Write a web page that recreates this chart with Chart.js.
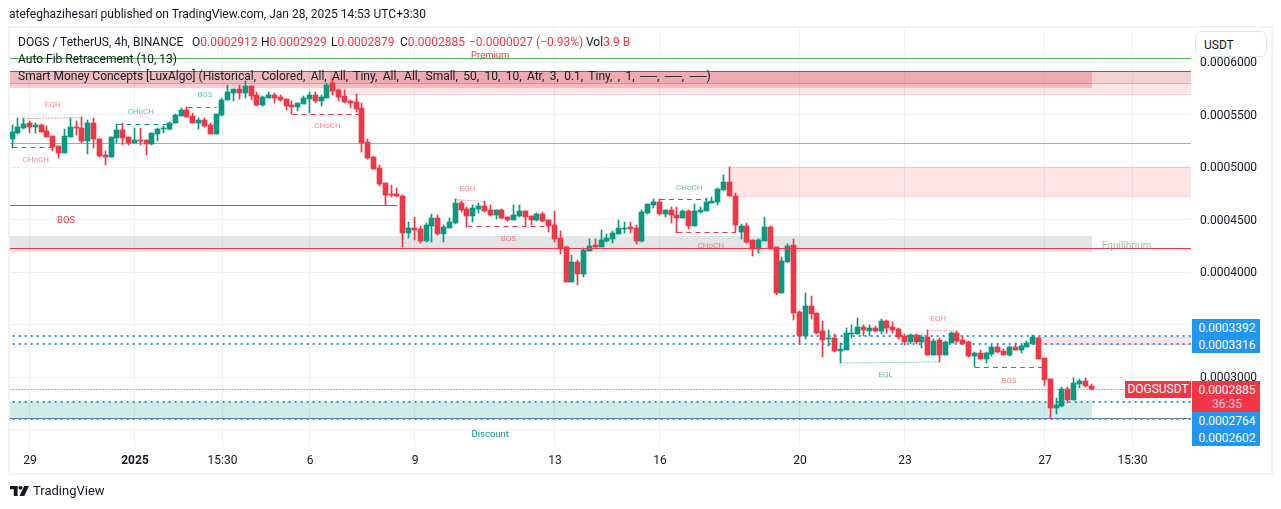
<!DOCTYPE html>
<html>
<head>
<meta charset="utf-8">
<style>
body{margin:0;background:#fff;font-family:Roboto,sans-serif;color:#131722;}
#wrap{position:relative;width:1281px;height:509px;overflow:hidden;}
#frame{position:absolute;left:8px;top:26px;width:1261px;height:445px;border:2px solid #f0f3fa;}
canvas{position:absolute;left:0;top:0;}
.t{position:absolute;font-size:12px;line-height:14px;white-space:nowrap;}
.r{color:#f23645;}
.tag{position:absolute;left:1192px;width:68px;color:#fff;font-size:12px;line-height:14px;text-align:center;text-indent:2px;}
</style>
</head>
<body>
<div id="wrap">
  <div id="frame"></div>
  <canvas id="c" width="1281" height="509"></canvas>
  <div class="t" style="left:9px;top:7px;">atefeghazihesari published on TradingView.com, Jan 28, 2025 14:53 UTC+3:30</div>
  <div class="t" style="left:18px;top:35px;">DOGS / TetherUS, 4h, BINANCE</div>
  <div class="t" style="left:192px;top:35px;">O<span class="r">0.0002912</span></div>
  <div class="t" style="left:261px;top:35px;">H<span class="r">0.0002929</span></div>
  <div class="t" style="left:331px;top:35px;">L<span class="r">0.0002879</span></div>
  <div class="t" style="left:400px;top:35px;">C<span class="r">0.0002885</span></div>
  <div class="t r" style="left:469px;top:35px;">−0.0000027 (−0.93%)</div>
  <div class="t" style="left:586px;top:35px;">Vol<span class="r">3.9 B</span></div>
  <div class="t" style="left:18px;top:52px;">Auto Fib Retracement (10, 13)</div>
  <div class="t" style="left:18px;top:69px;">Smart Money Concepts [LuxAlgo] <span style="word-spacing:2.4px;">(Historical, Colored, All, All, Tiny, All, All, Small, 50, 10, 10, Atr, 3, 0.1, Tiny, , 1, ──, ──, ──)</span></div>
  <div class="t" style="left:1195px;top:31px;width:62px;height:24px;padding-left:8px;line-height:26px;background:#fff;border:1px solid #e0e3eb;border-radius:6px;">USDT</div>
  <div class="tag" style="top:319px;height:34px;background:#2196f3;"><div style="padding-top:2px;">0.0003392</div><div style="padding-top:3px;">0.0003316</div></div>
  <div class="tag" style="top:412px;height:34px;background:#2196f3;"><div style="padding-top:2px;">0.0002764</div><div style="padding-top:3px;">0.0002602</div></div>
  <div class="tag" style="top:381px;height:31px;background:#f23645;"><div style="padding-top:2px;">0.0002885</div><div style="opacity:.75;">36:35</div></div>
  <div class="tag" style="left:1125px;width:66px;top:381px;height:17px;line-height:17px;background:#f23645;text-indent:0;">DOGSUSDT</div>
  <svg style="position:absolute;left:10px;top:486px;" width="19" height="10" viewBox="0 0 20 12" preserveAspectRatio="none"><path d="M0 0h8v12H4V4H0z" fill="#131722"/><circle cx="11" cy="2.2" r="2.2" fill="#131722"/><path d="M15 0h5l-5 12h-5z" fill="#131722"/></svg>
  <div class="t" style="left:33px;top:484px;font-size:13px;">TradingView</div>
</div>
<script src="https://cdn.jsdelivr.net/npm/chart.js@4"></script>
<script>
// prices below are price x 1e7, one entry per 4h candle
const opens=[5266,5323,5371,5419,5381,5400,5343,5295,5200,5133,
5285,5381,5371,5247,5419,5266,5114,5095,5276,5352,
5285,5228,5257,5257,5219,5314,5362,5362,5419,5485,
5543,5485,5419,5447,5400,5314,5495,5638,5705,5743,
5705,5771,5686,5590,5657,5686,5667,5647,5590,5571,
5600,5647,5686,5628,5657,5800,5733,5676,5628,5619,
5562,5238,5095,4990,4848,4743,4743,4724,4371,4419,
4409,4295,4438,4514,4361,4419,4466,4657,4600,4533,
4600,4628,4590,4543,4590,4523,4495,4533,4581,4533,
4495,4552,4495,4447,4323,4238,3904,4095,3980,4200,
4257,4238,4295,4314,4361,4409,4428,4419,4295,4561,
4638,4666,4552,4590,4543,4514,4581,4438,4571,4581,
4657,4666,4781,4857,4724,4381,4438,4304,4219,4295,
4428,4238,3800,4095,4257,3619,3390,3676,3609,3438,
3362,3371,3247,3257,3409,3409,3476,3438,3466,3438,
3533,3476,3457,3390,3333,3400,3333,3381,3209,3352,
3209,3324,3419,3352,3333,3200,3228,3171,3219,3285,
3247,3209,3285,3257,3285,3314,3371,3181,2981,2705,
2724,2885,2781,2933,2962,2912];
const highs=[5400,5466,5466,5438,5419,5409,5390,5295,5200,5362,
5466,5438,5476,5447,5466,5266,5152,5285,5409,5419,
5285,5371,5371,5257,5323,5371,5390,5428,5505,5562,
5571,5514,5466,5466,5419,5505,5657,5781,5743,5781,
5819,5771,5714,5676,5714,5705,5686,5647,5628,5609,
5676,5714,5714,5686,5800,5847,5743,5733,5638,5695,
5609,5266,5104,5019,4848,4828,4800,4733,4476,4523,
4438,4466,4552,4543,4447,4514,4695,4676,4619,4638,
4657,4676,4638,4590,4600,4523,4638,4638,4581,4533,
4561,4571,4495,4581,4390,4247,4161,4114,4228,4314,
4314,4400,4361,4390,4495,4476,4476,4447,4590,4647,
4695,4695,4590,4619,4619,4590,4590,4647,4619,4705,
4714,4800,4923,5000,4752,4457,4466,4304,4314,4523,
4438,4238,4142,4266,4314,3628,3800,3771,3609,3533,
3447,3409,3324,3466,3495,3561,3495,3495,3486,3552,
3543,3524,3466,3409,3409,3409,3400,3447,3362,3371,
3343,3428,3438,3390,3343,3238,3257,3238,3304,3304,
3266,3295,3324,3304,3343,3400,3381,3181,2981,2800,
2905,2905,2990,2981,2990,2929];
const lows=[5181,5314,5362,5323,5323,5333,5285,5152,5085,5133,
5285,5304,5228,5123,5181,5095,5019,5095,5228,5209,
5209,5228,5209,5114,5209,5247,5323,5352,5419,5485,
5476,5419,5362,5381,5314,5314,5485,5638,5628,5647,
5657,5638,5581,5581,5657,5609,5628,5543,5505,5533,
5600,5514,5609,5581,5657,5686,5628,5609,5562,5524,
5142,5076,4981,4819,4638,4714,4714,4238,4323,4304,
4276,4285,4285,4352,4285,4419,4457,4571,4428,4476,
4561,4571,4533,4504,4504,4485,4495,4523,4438,4447,
4485,4476,4381,4285,4171,3904,3904,3876,3952,4200,
4238,4238,4285,4276,4361,4371,4371,4266,4285,4552,
4609,4543,4523,4466,4371,4514,4409,4438,4561,4581,
4657,4638,4781,4724,4381,4314,4276,4152,4181,4295,
4219,3781,3800,4095,3543,3314,3362,3552,3409,3190,
3295,3238,3133,3257,3371,3409,3390,3390,3428,3409,
3419,3419,3362,3304,3314,3314,3276,3209,3209,3143,
3209,3324,3324,3314,3190,3095,3171,3133,3200,3228,
3209,3200,3257,3228,3285,3314,3171,2914,2610,2647,
2714,2752,2781,2895,2905,2879];
const closes=[5333,5381,5409,5381,5400,5333,5285,5190,5133,5295,
5381,5371,5247,5419,5266,5104,5095,5285,5352,5276,
5228,5257,5247,5219,5323,5362,5371,5419,5495,5543,
5476,5419,5447,5390,5314,5505,5638,5714,5743,5705,
5771,5676,5590,5667,5686,5657,5638,5581,5571,5609,
5657,5686,5628,5667,5781,5724,5667,5619,5609,5552,
5228,5085,4981,4838,4733,4733,4724,4371,4419,4400,
4295,4447,4514,4361,4428,4476,4657,4590,4533,4609,
4628,4581,4543,4590,4514,4495,4543,4581,4523,4495,
4552,4485,4438,4314,4228,3904,4095,3980,4209,4247,
4238,4304,4323,4371,4419,4419,4409,4295,4571,4647,
4666,4552,4590,4543,4514,4581,4438,4581,4590,4666,
4676,4790,4857,4724,4447,4438,4285,4219,4304,4428,
4219,3800,4104,4247,3609,3390,3676,3600,3419,3352,
3371,3247,3266,3419,3419,3476,3447,3466,3438,3533,
3466,3447,3381,3333,3400,3333,3381,3209,3343,3209,
3333,3419,3343,3314,3200,3228,3171,3228,3285,3238,
3209,3285,3257,3295,3324,3381,3171,2971,2705,2733,
2885,2781,2942,2962,2912,2885];

const xTickIndex=[3,21,36,51,69,93,111,135,153,177,192];
const xTickLabels=['29','2025','15:30','6','9','13','16','20','23','27','15:30'];
const yTicks=[6000,5500,5000,4500,4000,3500,3000,2500];

// horizontal levels
const levelPrices=[6033,5914,5800,5228,4629,4223,3392,3316,2764,2602,2602,2885];
const levelFrom=[-1,-1,-1,-1,-1,-1,-1,-1,-1,-1,-1,-1];
const levelTo=[203,203,203,203,66,203,203,203,203,203,203,190.7];
const levelStyle=[
  {c:'#4caf50',w:1},{c:'#e5303f',w:1},{c:'rgba(110,60,70,.3)',w:1},{c:'#81c784',w:1},{c:'#f23645',w:1},{c:'#f23645',w:1},
  {c:'#2196f3',w:2,d:[2,4]},{c:'#2196f3',w:2,d:[2,4]},{c:'#2196f3',w:2,d:[2,4]},{c:'#5d7fb5',w:1},{c:'#2196f3',w:2,d:[2,4]},
  {c:'#d9404e',w:1,d:[1,2]}];

// swing structure lines: start, end, price at start, price at end, colour kind
const segFrom=[2.5,0,18,30,48,76,78,111,114,157,142,165];
const segTo=[12,8,27,35,60,81,92,119,124,162,159,177];
const segStart=[5461,5185,5403,5564,5501,4690,4437,4695,4380,3447,3133,3095];
const segEnd=[5471,5185,5403,5564,5501,4671,4437,4695,4380,3438,3143,3095];
const segKind=['eqh','r','g','g','r','eqh','r','g','r','eqh','eql','r'];

// boxes: from, to, top, bottom
const zoneFrom=[-1,54.5,122.8,175.8,-1,-1,-1];
const zoneTo=[185,203,203,203,185,185,203];
const zoneTop=[5914,5914,4999,3381,4342,2762,5914];
const zoneBottom=[5752,5686,4714,3304,4190,2600,5800];
const zoneColor=['rgba(242,54,69,.26)','rgba(242,54,69,.13)','rgba(242,54,69,.13)','rgba(242,54,69,.13)',
  'rgba(120,123,134,.2)','rgba(8,153,129,.19)','rgba(150,70,80,.12)'];
const zoneEdge=[null,'rgba(242,54,69,.12)','rgba(242,54,69,.12)','rgba(242,54,69,.12)',null,null,null];

const markText=['EQH','CHoCH','CHoCH','BOS','CHoCH','BOS','EQH','BOS','CHoCH','CHoCH','EQH','EQL','BOS','Premium','Discount','Equilibrium'];
const markIndex=[6.9,4,22,33,54,9.2,78,85,116,119.7,158.7,149.7,170.8,81.9,81.9,191];
const markPrice=[5600,5076,5533,5695,5400,4495,4800,4323,4809,4262,3561,3028,2971,6066,2457,4257];
const markKind=['r','r','g','g','r','R','r','r','g','r','r','g','r','R','G','N'];

const GREEN='#089981', RED='#f23645';
const p=v=>v/1e7;
const up=opens.map((o,i)=>closes[i]>=o);
const colors=up.map(u=>u?GREEN:RED);
const xMin=(10-12.5)/5.8333, xMax=(1191-12.5)/5.8333;

const segColor={eqh:'rgba(242,54,69,.5)',r:RED,g:GREEN,eql:'rgba(8,153,129,.5)'};
const segDash={eqh:[2,1],r:[5,4],g:[5,4],eql:[2,1]};

const lineSets=[];
levelPrices.forEach((v,i)=>{
  const s=levelStyle[i];
  lineSets.push({type:'line',data:[{x:levelFrom[i],y:p(v)},{x:levelTo[i],y:p(v)}],borderColor:s.c,borderWidth:s.w,
    borderDash:s.d||[],pointRadius:0,order:i==5?0:2});
});
segFrom.forEach((f,i)=>{
  const k=segKind[i];
  lineSets.push({type:'line',data:[{x:f,y:p(segStart[i])},{x:segTo[i],y:p(segEnd[i])}],borderColor:segColor[k],
    borderWidth:1,borderDash:segDash[k],pointRadius:0,order:2});
});

const overlayPlugin={
  id:'overlay',
  afterDatasetsUpdate(chart){
    // snap candles and lines to whole pixels so they stay sharp
    chart.data.datasets.forEach((d,n)=>{
      const els=chart.getDatasetMeta(n).data;
      if(d.type=='line'){
        if(d.data[0].y==d.data[1].y) els.forEach(e=>{
          e.y=d.borderWidth==2?Math.round(e.y):Math.floor(e.y)+.5;
        });
        return;
      }
      els.forEach(e=>{
        e.x=Math.floor(e.x-2.5)+2.5;
        e.y=Math.round(e.y); e.base=Math.round(e.base);
        if(e.y==e.base) e.base=e.y+1;
      });
    });
  },
  beforeDatasetsDraw(chart){
    const {ctx,scales:{x,y},chartArea:a}=chart;
    ctx.save();
    ctx.beginPath(); ctx.rect(a.left,a.top,a.width,a.height); ctx.clip();
    zoneFrom.forEach((f,i)=>{
      const l=Math.round(x.getPixelForValue(f)), r=Math.round(x.getPixelForValue(zoneTo[i]));
      const t=Math.round(y.getPixelForValue(p(zoneTop[i]))), b=Math.round(y.getPixelForValue(p(zoneBottom[i])));
      ctx.fillStyle=zoneColor[i];
      ctx.fillRect(l,t,r-l,b-t);
      if(zoneEdge[i]){
        ctx.strokeStyle=zoneEdge[i];
        ctx.strokeRect(l+.5,t+.5,r-l-1,b-t-1);
      }
    });
    ctx.restore();
  },
  afterDatasetsDraw(chart){
    const {ctx,scales:{x,y}}=chart;
    ctx.save();
    ctx.textAlign='center'; ctx.textBaseline='middle';
    const fill={r:'rgba(242,54,69,.6)',g:'rgba(8,153,129,.65)',R:RED,G:GREEN,N:'rgba(120,123,134,.6)'};
    markText.forEach((t,i)=>{
      const k=markKind[i];
      ctx.font=(k=='r'||k=='g'?'8px':(k=='N'?'10px':'9.5px'))+' Roboto';
      ctx.fillStyle=fill[k];
      ctx.fillText(t,x.getPixelForValue(markIndex[i]),y.getPixelForValue(p(markPrice[i]))+1);
    });
    ctx.restore();
  }
};

new Chart(document.getElementById('c'),{
  type:'bar',
  data:{datasets:[
    {label:'wick',data:opens.map((o,i)=>({x:i,y:[p(lows[i]),p(highs[i])]})),backgroundColor:colors,barThickness:1,order:1.5},
    {label:'body',data:opens.map((o,i)=>({x:i,y:[p(o),p(closes[i])]})),backgroundColor:colors,barThickness:5,order:1},
    ...lineSets
  ]},
  options:{
    responsive:false,animation:false,
    layout:{padding:{left:10,top:28,right:11,bottom:36}},
    plugins:{legend:{display:false},tooltip:{enabled:false}},
    datasets:{bar:{grouped:false}},
    scales:{
      x:{type:'linear',min:xMin,max:xMax,offset:false,
        afterBuildTicks:s=>{s.ticks=xTickIndex.map(v=>({value:v}));},
        afterFit:s=>{s.height=27;},
        grid:{color:'#eff0f4',offset:false,drawTicks:false},border:{display:false},
        ticks:{autoSkip:false,maxRotation:0,padding:8,color:'#131722',
          font:c=>({family:'Roboto',size:12,weight:c.tick&&c.tick.label=='2025'?'bold':'normal'}),
          callback:(v,i)=>xTickLabels[i]}},
      y:{type:'linear',position:'right',min:p(2343),max:p(6324),
        afterBuildTicks:s=>{s.ticks=yTicks.map(v=>({value:p(v)}));},
        afterFit:s=>{s.width=79;},
        grid:{color:'#eff0f4',drawTicks:false},border:{display:false},
        ticks:{padding:9,labelOffset:1,color:'#131722',font:{family:'Roboto',size:12},callback:v=>v.toFixed(7)}}
    }
  },
  plugins:[overlayPlugin]
});
</script>
</body>
</html>
